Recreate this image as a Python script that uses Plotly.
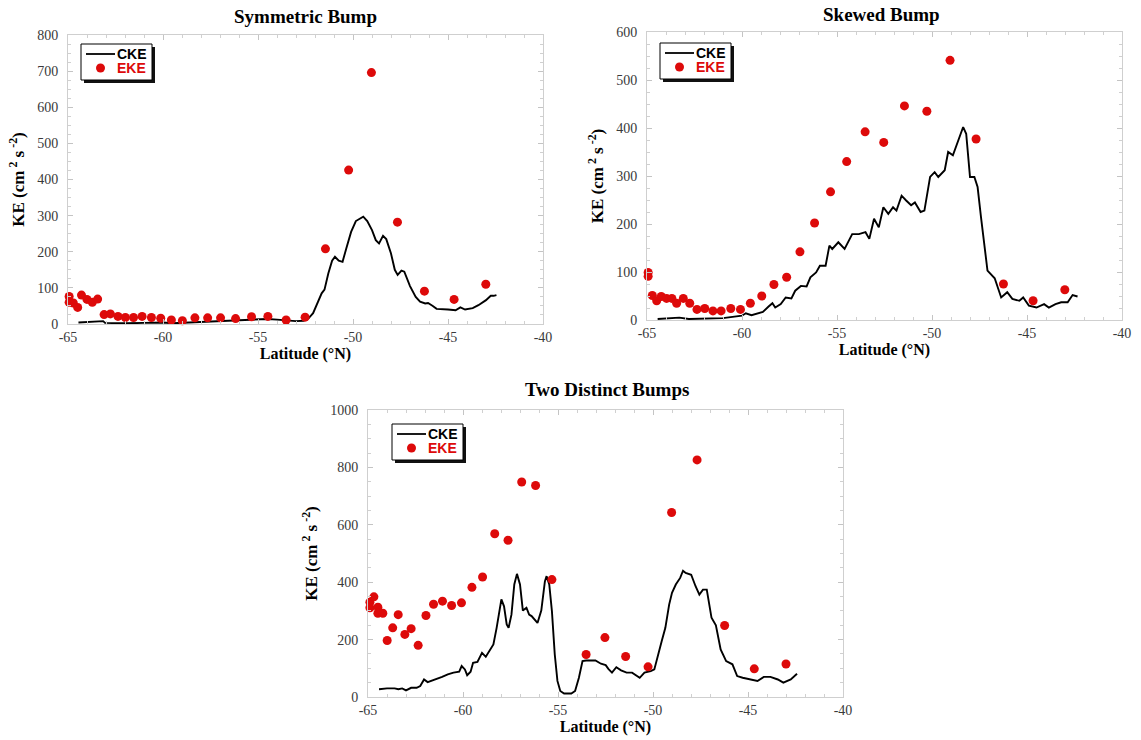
import plotly.graph_objects as go

# ---------------- data ----------------
x_ticks = [-65, -60, -55, -50, -45, -40]
x_tick_labels = ["-65", "-60", "-55", "-50", "-45", "-40"]
legend_labels = ["CKE", "EKE"]

# Symmetric Bump
sym_eke_lat = [-64.94, -64.94, -64.72, -64.49, -64.29, -64.0, -63.72, -63.44, -63.1, -62.77,
               -62.37, -61.98, -61.55, -61.1, -60.61, -60.12, -59.56, -58.98, -58.32, -57.65,
               -56.97, -56.18, -55.34, -54.48, -53.52, -52.52, -51.45, -50.23, -49.03, -47.66,
               -46.24, -44.68, -43.01]
sym_eke = [76, 60, 58, 46, 80, 68, 60, 69, 26, 28,
           21, 18, 18, 21, 18, 16, 11, 9, 17, 17,
           17, 15, 20, 21, 11, 19, 208, 426, 696, 282,
           91, 68, 110]
sym_cke_lat = [-64.45, -64.0, -63.5, -63.15, -63.05, -62.5, -62.0, -61.0, -60.0, -59.5,
               -59.0, -58.5, -58.0, -57.0, -56.0, -55.0, -54.5, -54.0, -53.5, -53.0,
               -52.6, -52.35, -52.1, -51.9, -51.65, -51.5, -51.3, -51.1, -50.95, -50.75,
               -50.55, -50.35, -50.1, -49.85, -49.65, -49.46, -49.25, -49.0, -48.8, -48.63,
               -48.42, -48.25, -48.0, -47.8, -47.65, -47.45, -47.3, -47.0, -46.7, -46.47,
               -46.2, -46.05, -45.8, -45.6, -45.0, -44.6, -44.35, -44.1, -43.7, -43.4,
               -43.0, -42.75, -42.6, -42.45]
sym_cke = [4, 6, 7, 8, 3, 2, 2, 3, 4, 2,
           3, 4, 6, 8, 10, 12, 14, 12, 10, 8,
           9, 15, 30, 55, 85, 95, 140, 175, 186, 175,
           172, 210, 255, 285, 292, 297, 285, 260, 232, 223,
           244, 235, 195, 150, 136, 148, 145, 105, 75, 62,
           57, 58, 50, 42, 40, 38, 46, 40, 44, 52,
           66, 78, 78, 80]

# Skewed Bump
skw_eke_lat = [-64.94, -64.94, -64.72, -64.49, -64.25, -63.97, -63.69, -63.44, -63.09, -62.75,
               -62.37, -61.96, -61.53, -61.1, -60.59, -60.08, -59.56, -58.96, -58.32, -57.65,
               -56.95, -56.18, -55.34, -54.49, -53.52, -52.54, -51.45, -50.27, -49.05, -47.68,
               -46.24, -44.68, -43.01]
skw_eke = [99, 91, 51, 40, 49, 45, 45, 35, 45, 35,
           22, 24, 19, 19, 24, 22, 35, 50, 74, 89,
           142, 202, 267, 330, 392, 370, 446, 435, 541, 377,
           75, 40, 63]
skw_cke_lat = [-64.44, -63.3, -62.8, -61.0, -60.0, -59.8, -59.5, -58.9, -58.6, -58.4,
               -58.25, -57.96, -57.7, -57.4, -57.2, -56.9, -56.6, -56.4, -56.1, -55.9,
               -55.6, -55.4, -55.25, -54.93, -54.6, -54.2, -53.85, -53.5, -53.3, -53.05,
               -52.8, -52.56, -52.3, -52.05, -51.87, -51.6, -51.36, -51.1, -50.9, -50.6,
               -50.4, -50.1, -49.86, -49.67, -49.33, -49.15, -48.9, -48.6, -48.36, -48.2,
               -48.0, -47.77, -47.6, -47.42, -47.23, -47.08, -46.7, -46.5, -46.36, -46.04,
               -45.77, -45.4, -45.2, -44.9, -44.5, -44.1, -43.85, -43.5, -43.2, -42.86,
               -42.6, -42.34]
skw_cke = [2, 5, 2, 4, 9, 14, 10, 17, 28, 35,
           26, 33, 47, 45, 61, 71, 70, 89, 99, 113,
           113, 155, 148, 162, 148, 179, 179, 183, 169, 211,
           193, 235, 221, 235, 228, 259, 249, 239, 245, 225,
           228, 298, 308, 298, 312, 350, 343, 374, 402, 388,
           298, 298, 277, 214, 145, 103, 87, 65, 47, 58,
           44, 40, 47, 30, 26, 33, 26, 33, 37, 37,
           52, 49]

# Two Distinct Bumps
two_eke_lat = [-64.9, -64.9, -64.69, -64.48, -64.48, -64.22, -63.99, -63.7, -63.41, -63.06,
               -62.73, -62.36, -61.95, -61.55, -61.08, -60.6, -60.08, -59.53, -58.97, -58.33,
               -57.63, -56.91, -56.18, -55.32, -53.52, -52.53, -51.44, -50.26, -49.02, -47.68,
               -46.23, -44.67, -43.0]
two_eke = [330, 311, 349, 313, 292, 292, 197, 241, 287, 218,
           238, 180, 284, 323, 334, 319, 328, 382, 418, 569,
           546, 749, 737, 409, 148, 207, 141, 105, 643, 826,
           249, 98, 115]
two_cke_lat = [-64.42, -64.0, -63.6, -63.4, -63.2, -63.0, -62.73, -62.44, -62.25, -62.05,
               -61.86, -61.47, -61.28, -61.1, -60.8, -60.5, -60.2, -60.07, -59.9, -59.78,
               -59.6, -59.47, -59.24, -59.0, -58.8, -58.56, -58.4, -58.23, -58.1, -57.98,
               -57.84, -57.7, -57.6, -57.45, -57.3, -57.16, -57.0, -56.85, -56.66, -56.52,
               -56.39, -56.23, -56.08, -55.88, -55.69, -55.6, -55.46, -55.32, -55.17, -55.03,
               -54.88, -54.68, -54.3, -54.1, -53.9, -53.71, -53.52, -53.03, -52.74, -52.49,
               -52.35, -52.16, -51.93, -51.68, -51.39, -51.1, -50.7, -50.45, -50.12, -49.93,
               -49.74, -49.54, -49.35, -49.15, -49.0, -48.8, -48.57, -48.42, -48.28, -47.99,
               -47.76, -47.56, -47.37, -47.17, -46.92, -46.69, -46.44, -46.15, -45.82, -45.57,
               -45.28, -44.8, -44.5, -44.17, -43.82, -43.43, -43.14, -42.75, -42.42]
two_cke = [27, 30, 30, 27, 30, 23, 32, 32, 38, 61,
           52, 61, 65, 70, 79, 85, 88, 108, 96, 76,
           88, 119, 122, 154, 140, 168, 183, 241, 299, 340,
           316, 253, 241, 287, 392, 429, 392, 301, 311, 287,
           282, 270, 258, 301, 403, 421, 392, 299, 148, 56,
           21, 12, 12, 21, 67, 125, 127, 127, 116, 111,
           98, 85, 104, 93, 85, 85, 67, 85, 90, 96,
           148, 195, 241, 322, 363, 392, 415, 440, 432, 426,
           386, 357, 374, 374, 276, 250, 166, 125, 114, 73,
           67, 61, 56, 70, 70, 61, 50, 61, 81]

titles = ["Symmetric Bump", "Skewed Bump", "Two Distinct Bumps"]

# ---------------- layout helpers ----------------
W, H = 1141, 740
RED = "#dd0a0a"


def px_x(p):
    return p / W


def px_y(p):
    return 1 - p / H


panels = [
    dict(box=(68, 543, 35, 324), yrange=[0, 800], dtick=100, minor=25,
         lat_e=sym_eke_lat, eke=sym_eke, lat_c=sym_cke_lat, cke=sym_cke,
         title_xy=(305, 17), legend=(81, 44)),
    dict(box=(647, 1122, 32, 320), yrange=[0, 600], dtick=100, minor=25,
         lat_e=skw_eke_lat, eke=skw_eke, lat_c=skw_cke_lat, cke=skw_cke,
         title_xy=(881, 14), legend=(660, 43)),
    dict(box=(368, 843, 410, 697), yrange=[0, 1000], dtick=200, minor=50,
         lat_e=two_eke_lat, eke=two_eke, lat_c=two_cke_lat, cke=two_cke,
         title_xy=(607, 390), legend=(392, 424)),
]

fig = go.Figure()
annotations = []
shapes = []
layout = {}
serif = "Liberation Serif"

for i, p in enumerate(panels):
    n = "" if i == 0 else str(i + 1)
    fig.add_trace(go.Scatter(
        x=p["lat_c"], y=p["cke"], mode="lines", name=legend_labels[0],
        line=dict(color="black", width=1.9), showlegend=False,
        xaxis="x" + n, yaxis="y" + n))
    fig.add_trace(go.Scatter(
        x=p["lat_e"], y=p["eke"], mode="markers", name=legend_labels[1],
        marker=dict(color=RED, size=9, line=dict(width=0)),
        cliponaxis=False, showlegend=False,
        xaxis="x" + n, yaxis="y" + n))

    x0, x1, y0, y1 = p["box"]
    common = dict(showline=True, mirror="ticks", linecolor="#cfcfcf", linewidth=1,
                  ticks="inside", ticklen=5, tickcolor="#c4c4c4", tickwidth=1,
                  showgrid=False, zeroline=False, automargin=False,
                  tickfont=dict(family=serif, size=14, color="#3a3a3a"))
    layout["xaxis" + n] = dict(
        common, domain=[px_x(x0), px_x(x1)], anchor="y" + n, range=[-65, -40],
        tickvals=x_ticks, ticktext=x_tick_labels,
        minor=dict(dtick=1, ticks="inside", ticklen=3, tickcolor="#d0d0d0", showgrid=False),
        title=dict(text="<b>Latitude (°N)</b>", standoff=4,
                   font=dict(family=serif, size=16, color="black")))
    layout["yaxis" + n] = dict(
        common, domain=[px_y(y1), px_y(y0)], anchor="x" + n, range=p["yrange"],
        dtick=p["dtick"], ticklabelstandoff=6,
        minor=dict(dtick=p["minor"], ticks="inside", ticklen=3, tickcolor="#d0d0d0", showgrid=False),
        title=dict(text="<b>KE (cm<sup> 2</sup> s<sup> -2</sup>)</b>", standoff=8,
                   font=dict(family=serif, size=17, color="black")))

    tx, ty = p["title_xy"]
    annotations.append(dict(text=f"<b>{titles[i]}</b>", x=px_x(tx), y=px_y(ty),
                            xref="paper", yref="paper", showarrow=False,
                            xanchor="center", yanchor="middle",
                            font=dict(family=serif, size=19, color="black")))

    # legend box with drop shadow
    bx, by = p["legend"]
    bw, bh = 71, 36
    shapes.append(dict(type="rect", xref="paper", yref="paper",
                       x0=px_x(bx + 3), x1=px_x(bx + bw + 3), y0=px_y(by + bh + 3), y1=px_y(by + 3),
                       fillcolor="#111111", line=dict(width=0), layer="above"))
    shapes.append(dict(type="rect", xref="paper", yref="paper",
                       x0=px_x(bx), x1=px_x(bx + bw), y0=px_y(by + bh), y1=px_y(by),
                       fillcolor="white", line=dict(color="black", width=1), layer="above"))
    shapes.append(dict(type="line", xref="paper", yref="paper",
                       x0=px_x(bx + 5), x1=px_x(bx + 34), y0=px_y(by + 10), y1=px_y(by + 10),
                       line=dict(color="black", width=1.8), layer="above"))
    shapes.append(dict(type="circle", xref="paper", yref="paper",
                       x0=px_x(bx + 15), x1=px_x(bx + 24), y0=px_y(by + 28.5), y1=px_y(by + 19.5),
                       fillcolor=RED, line=dict(width=0), layer="above"))
    annotations.append(dict(text=f"<b>{legend_labels[0]}</b>", x=px_x(bx + 34), y=px_y(by + 10),
                            xref="paper", yref="paper", showarrow=False,
                            xanchor="left", yanchor="middle",
                            font=dict(family="Liberation Sans", size=14, color="black")))
    annotations.append(dict(text=f"<b>{legend_labels[1]}</b>", x=px_x(bx + 34), y=px_y(by + 24),
                            xref="paper", yref="paper", showarrow=False,
                            xanchor="left", yanchor="middle",
                            font=dict(family="Liberation Sans", size=14, color=RED)))

fig.update_layout(
    width=W, height=H, margin=dict(l=0, r=0, t=0, b=0, autoexpand=False),
    paper_bgcolor="white", plot_bgcolor="white", showlegend=False,
    annotations=annotations, shapes=shapes, **layout)

# remove the page's default 8px body margin so the figure sits at the window origin
fig.write_html("out.html", config={"displayModeBar": False},
               post_script="document.body.style.margin='0';")
